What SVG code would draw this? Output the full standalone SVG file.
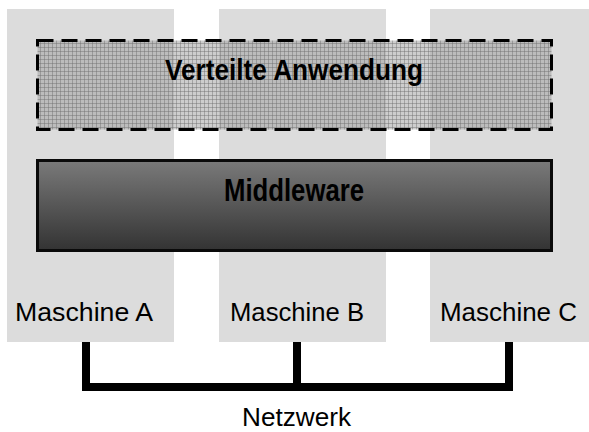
<svg xmlns="http://www.w3.org/2000/svg" width="589" height="432" viewBox="0 0 589 432">
  <style>
    .machine { fill: #dcdcdc; }
    .label { font-family: "Liberation Sans", Arial, sans-serif; font-size: 26px; fill: #000; }
    .title { font-family: "Liberation Sans", Arial, sans-serif; font-weight: bold; fill: #000; }
    .net { fill: none; stroke: #000; stroke-width: 8; stroke-linejoin: miter; stroke-linecap: butt; }
  </style>
  <defs>
    <pattern id="grid" width="4" height="4" patternUnits="userSpaceOnUse" x="36" y="39">
      <rect width="4" height="4" fill="#9c9c9c" fill-opacity="0.5"/>
      <path d="M0 0.5H4M0.5 0V4" stroke="#6e6e6e" stroke-opacity="0.45" stroke-width="1"/>
    </pattern>
    <linearGradient id="mw" x1="0" y1="0" x2="0" y2="1">
      <stop offset="0" stop-color="#7a7a7a"/>
      <stop offset="1" stop-color="#333333"/>
    </linearGradient>
  </defs>

  <g id="maschine-a">
    <rect class="machine" x="7" y="9" width="167" height="333"/>
    <text class="label" x="15" y="321" textLength="138" lengthAdjust="spacingAndGlyphs">Maschine A</text>
  </g>
  <g id="maschine-b">
    <rect class="machine" x="219" y="9" width="167" height="333"/>
    <text class="label" x="230" y="321" textLength="134" lengthAdjust="spacingAndGlyphs">Maschine B</text>
  </g>
  <g id="maschine-c">
    <rect class="machine" x="430" y="9" width="159" height="333"/>
    <text class="label" x="440" y="321" textLength="137" lengthAdjust="spacingAndGlyphs">Maschine C</text>
  </g>

  <g id="verteilte-anwendung">
    <rect x="37.5" y="40.5" width="514" height="89" fill="url(#grid)" stroke="#000" stroke-width="3" stroke-dasharray="16 8"/>
    <text class="title" x="165" y="80" font-size="30" textLength="258" lengthAdjust="spacingAndGlyphs">Verteilte Anwendung</text>
  </g>

  <g id="middleware">
    <rect x="37.5" y="160.5" width="514" height="90" fill="url(#mw)" stroke="#0a0a0a" stroke-width="3"/>
    <text class="title" x="224" y="201" font-size="32" textLength="140" lengthAdjust="spacingAndGlyphs">Middleware</text>
  </g>

  <g id="connectors">
    <path class="net" d="M86 342V387H509V342"/>
    <path class="net" d="M297 342V387"/>
  </g>

  <g id="netzwerk">
    <text class="label" x="242" y="426" textLength="109" lengthAdjust="spacingAndGlyphs">Netzwerk</text>
  </g>
</svg>
